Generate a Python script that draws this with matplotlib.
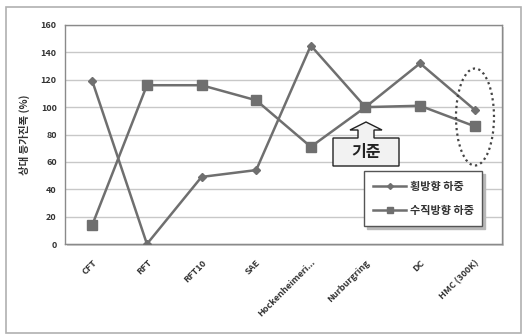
import matplotlib
matplotlib.use('Agg')
import matplotlib.pyplot as plt
from matplotlib.patches import Rectangle, Polygon, Ellipse

plt.rcParams['font.family'] = ['Noto Sans CJK KR', 'DejaVu Sans']

categories = ['CFT', 'RFT', 'RFT10', 'SAE', 'Hockenheimeri...', 'Nurburgring', 'DC', 'HMC (300K)']
lateral = [119, 0, 49, 54, 145, 100, 132, 98]
vertical = [14, 116, 116, 105, 71, 100, 101, 86]
series_names = ['횡방향 하중', '수직방향 하중']
y_label = '상대 등가진폭 (%)'
y_ticks = [0, 20, 40, 60, 80, 100, 120, 140, 160]

W, H = 526, 335
fig = plt.figure(figsize=(W / 100, H / 100), dpi=100)


def px(x, y):
    return (x / W, 1 - y / H)


# outer frame
fig.patches.append(Rectangle(px(6, 333), 515 / W, 326 / H, transform=fig.transFigure,
                             fill=False, edgecolor='#b0b0b0', lw=1.2, zorder=0))
# shadow of plot area
fig.patches.append(Rectangle(px(67, 246), 437 / W, 219 / H, transform=fig.transFigure,
                             facecolor='#cfcfcf', edgecolor='none', zorder=0))

ax = fig.add_axes([65 / W, 1 - 244 / H, 437 / W, 219 / H])
ax.set_zorder(2)
ax.set_facecolor('white')

x = list(range(len(categories)))
col = '#6f6f6f'
ax.plot(x, lateral, color=col, lw=1.8, marker='D', ms=4, label=series_names[0], zorder=3)
ax.plot(x, vertical, color=col, lw=1.8, marker='s', ms=6.5, label=series_names[1], zorder=3)

ax.set_xlim(-0.5, len(categories) - 0.5)
ax.set_ylim(0, 160)
ax.set_yticks(y_ticks)
ax.set_yticklabels([str(v) for v in y_ticks], fontsize=6.5, fontweight='bold', color='#333333')
ax.set_xticks(x)
ax.set_xticklabels(categories, rotation=45, ha='right', rotation_mode='anchor',
                   fontsize=6.5, fontweight='bold', color='#333333')
ax.tick_params(axis='both', length=0, pad=6)
ax.tick_params(axis='x', pad=10)
ax.grid(axis='y', color='#c8c8c8', lw=1.0)
ax.set_axisbelow(True)
for s in ax.spines.values():
    s.set_color('#8a8a8a')
    s.set_linewidth(1.0)

ax.set_ylabel(y_label, fontsize=7.5, fontweight='bold', color='#333333', labelpad=8)

leg = ax.legend(loc='upper left', bbox_to_anchor=((364 - 65) / 437, (244 - 171) / 219),
                fontsize=8, frameon=True, fancybox=False,
                shadow={'color': '#b8b8b8', 'alpha': 1.0},
                handlelength=3.0, handletextpad=0.3, markerscale=0.75,
                borderpad=0.8, borderaxespad=0, labelspacing=1.0, edgecolor='#555555')
leg.get_frame().set_linewidth(1.0)
for t in leg.get_texts():
    t.set_color('#333333')
    t.set_fontweight('bold')

# reference callout (기준)
pts = [(333, 166), (333, 138), (358, 138), (358, 130), (350, 130), (366, 122),
       (382, 130), (374, 130), (374, 138), (399, 138), (399, 166)]
fig.patches.append(Polygon([px(a, b) for a, b in pts], closed=True, transform=fig.transFigure,
                           facecolor='#f2f2f2', edgecolor='#222222', lw=1.0, zorder=5))
fig.text(*px(366, 152), '기준', ha='center', va='center', fontsize=11.5, fontweight='bold',
         color='#222222', zorder=6)

# dotted ellipse around HMC
fig.patches.append(Ellipse(px(475, 117), 38 / W, 97 / H, transform=fig.transFigure,
                           fill=False, edgecolor='#444444', lw=1.6, linestyle=(0, (1, 1.5)), zorder=6))

fig.savefig('out.png', dpi=100)
